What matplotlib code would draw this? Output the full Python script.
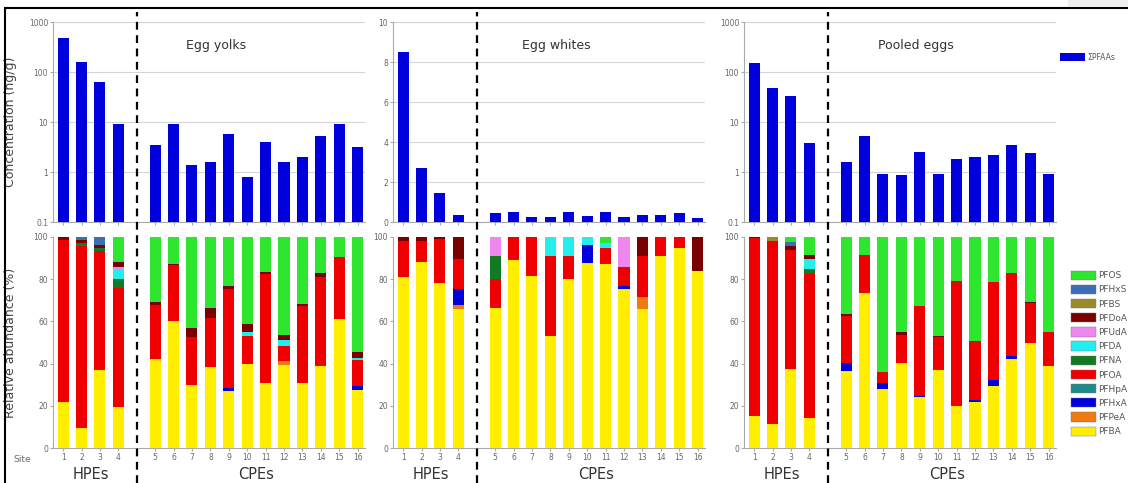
import matplotlib
matplotlib.use("Agg")
import matplotlib.pyplot as plt
import matplotlib.transforms as mtransforms
from matplotlib.lines import Line2D
from matplotlib.patches import Patch, Rectangle

# sites 1-4 = HPEs, 5-16 = CPEs
sites = [str(i) for i in range(1, 17)]
site_x = [1, 2, 3, 4] + list(range(6, 18))

compounds = ["PFBA", "PFPeA", "PFHxA", "PFHpA", "PFOA", "PFNA",
             "PFDA", "PFUdA", "PFDoA", "PFBS", "PFHxS", "PFOS"]
colors = ["#ffee00", "#f07a10", "#0000dd", "#1f8a8a", "#ee0000", "#117a22",
          "#22eeee", "#ee88ee", "#7a0000", "#9a8a2a", "#3a6fb5", "#2ee62e"]

# sum PFAAs, ng/g
yolk_conc = [475, 158, 62, 9, 3.4, 9.2, 1.35, 1.6, 5.7, 0.78, 3.9, 1.55, 2.0, 5.3, 9.2, 3.1]
white_conc = [8.5, 2.7, 1.45, 0.35, 0.45, 0.52, 0.25, 0.27, 0.5, 0.3, 0.52, 0.25, 0.33, 0.33, 0.45, 0.18]
pooled_conc = [150, 48, 33, 3.8, 1.6, 5.2, 0.9, 0.87, 2.5, 0.9, 1.8, 1.95, 2.2, 3.5, 2.4, 0.9]

# relative abundance, %
yolk_pct = {
    "PFBA":  [22, 9.5, 37, 19.5, 42, 60, 30, 38.5, 27, 40, 31, 39.5, 31, 39, 61, 27.5],
    "PFPeA": [0, 0, 0, 0, 0, 0, 0, 0, 0, 0, 0, 1.5, 0, 0, 0, 0],
    "PFHxA": [0, 0, 0, 0, 0, 0, 0, 0, 1.5, 0, 0, 0, 0, 0, 0, 2],
    "PFHpA": [0] * 16,
    "PFOA":  [76.5, 86, 56.5, 56.5, 26, 26.5, 22.5, 23, 47, 13, 51.5, 7.5, 36.5, 42, 29.5, 12],
    "PFNA":  [0, 1.5, 1.5, 4, 0, 0, 0, 0, 0, 0, 0, 0, 0, 0, 0, 0],
    "PFDA":  [0, 0, 0, 5, 0, 0, 0, 0, 0, 2, 0, 2.5, 0, 0, 0, 1],
    "PFUdA": [0, 0, 0, 1, 0, 0, 0, 0, 0, 0, 0, 0, 0, 0, 0, 0],
    "PFDoA": [1.5, 1.5, 1, 2, 1, 0.8, 4.5, 5, 1.5, 4, 0.8, 2.5, 0.8, 2, 0, 3],
    "PFBS":  [0] * 16,
    "PFHxS": [0, 1.5, 4, 0, 0, 0, 0, 0, 0, 0, 0, 0, 0, 0, 0, 0],
    "PFOS":  [0, 0, 0, 12, 31, 12.7, 43, 33.5, 23, 41, 16.7, 46.5, 31.7, 17, 9.5, 54.5],
}
white_pct = {
    "PFBA":  [81, 88, 78, 66, 66.5, 89, 81.5, 53, 80, 87.5, 87, 75.5, 66, 91, 95, 84],
    "PFPeA": [0, 0, 0, 2, 0, 0, 0, 0, 0, 0, 0, 0, 5.5, 0, 0, 0],
    "PFHxA": [0, 0, 0, 7.5, 0, 0, 0, 0, 0, 8.5, 0, 1.5, 0, 0, 0, 0],
    "PFHpA": [0] * 16,
    "PFOA":  [17, 10, 21, 14, 13.5, 11, 18.5, 38, 11, 0, 8, 9, 19.5, 9, 5, 0],
    "PFNA":  [0, 0, 0, 0, 11, 0, 0, 0, 0, 0, 0, 0, 0, 0, 0, 0],
    "PFDA":  [0, 0, 0, 0, 0, 0, 0, 9, 9, 4, 2, 0, 0, 0, 0, 0],
    "PFUdA": [0, 0, 0, 0, 9, 0, 0, 0, 0, 0, 0, 14, 0, 0, 0, 0],
    "PFDoA": [2, 2, 1, 10.5, 0, 0, 0, 0, 0, 0, 0, 0, 9, 0, 0, 16],
    "PFBS":  [0] * 16,
    "PFHxS": [0] * 16,
    "PFOS":  [0, 0, 0, 0, 0, 0, 0, 0, 0, 0, 3, 0, 0, 0, 0, 0],
}
pooled_pct = {
    "PFBA":  [15, 11.5, 37.5, 14, 36.5, 73.5, 28, 40.5, 24, 37, 20, 22, 29.5, 42, 50, 39],
    "PFPeA": [0] * 16,
    "PFHxA": [0, 0, 0, 0, 4, 0, 3, 0, 0.8, 0, 0, 0.8, 2.5, 1.5, 0, 0],
    "PFHpA": [0] * 16,
    "PFOA":  [84.5, 86.5, 56.5, 68.5, 22, 18, 5, 13, 42.5, 15.5, 59, 28, 46.5, 39.5, 18.5, 16],
    "PFNA":  [0, 0, 0, 2.5, 0, 0, 0, 0, 0, 0, 0, 0, 0, 0, 0, 0],
    "PFDA":  [0, 0, 0, 4.5, 0, 0, 0, 0, 0, 0, 0, 0, 0, 0, 0, 0],
    "PFUdA": [0] * 16,
    "PFDoA": [0.5, 0, 1.5, 2, 0.8, 0, 0, 1.5, 0, 0.8, 0, 0, 0, 0, 0.8, 0],
    "PFBS":  [0, 2, 0, 0, 0, 0, 0, 0, 0, 0, 0, 0, 0, 0, 0, 0],
    "PFHxS": [0, 0, 2, 0, 0, 0, 0, 0, 0, 0, 0, 0, 0, 0, 0, 0],
    "PFOS":  [0, 0, 2.5, 8.5, 36.7, 8.5, 64, 45, 32.7, 46.7, 21, 49.2, 21.5, 17, 30.7, 45],
}

titles = ["Egg yolks", "Egg whites", "Pooled eggs"]
concs = [yolk_conc, white_conc, pooled_conc]
pcts = [yolk_pct, white_pct, pooled_pct]
log_scale = [True, False, True]
title_x = [9.3, 9.3, 9.8]

W, H = 1128, 483
fig = plt.figure(figsize=(W / 100, H / 100), dpi=100)

lefts = [53, 393, 744]
ax_w = 312
tick_col = "#666666"
spine_col = "#aaaaaa"
bar_w = 0.6

for i in range(3):
    ax_t = fig.add_axes([lefts[i] / W, 1 - 222 / H, ax_w / W, 200 / H])
    ax_b = fig.add_axes([lefts[i] / W, 1 - 448 / H, ax_w / W, 211 / H])

    # concentration
    ax_t.bar(site_x, concs[i], width=bar_w, color="#0000dd", zorder=3)
    if log_scale[i]:
        ax_t.set_yscale("log")
        ax_t.set_ylim(0.1, 1000)
        ax_t.set_yticks([0.1, 1, 10, 100, 1000])
        ax_t.set_yticklabels(["0.1", "1", "10", "100", "1000"])
        ax_t.minorticks_off()
    else:
        ax_t.set_ylim(0, 10)
        ax_t.set_yticks([0, 2, 4, 6, 8, 10])
    ax_t.yaxis.grid(True, color="#d5d5d5", linewidth=0.8, zorder=0)
    ax_t.set_xlim(0.45, 17.4)
    ax_t.set_xticks(site_x)
    ax_t.tick_params(axis="x", labelbottom=False, length=2, color=spine_col)
    ax_t.tick_params(axis="y", labelsize=5.5, labelcolor=tick_col, length=2,
                     color=spine_col, pad=1.5)
    ax_t.text(title_x[i], 0.885, titles[i], transform=ax_t.get_xaxis_transform(),
              ha="center", va="center", fontsize=9, color="#333333")

    # relative abundance, stacked
    bottom = [0.0] * 16
    for name, col in zip(compounds, colors):
        vals = pcts[i][name]
        ax_b.bar(site_x, vals, width=bar_w, bottom=bottom, color=col,
                 linewidth=0, zorder=3)
        bottom = [b + v for b, v in zip(bottom, vals)]
    ax_b.set_ylim(0, 100)
    ax_b.set_yticks([0, 20, 40, 60, 80, 100])
    ax_b.set_xlim(0.45, 17.4)
    ax_b.set_xticks(site_x)
    ax_b.set_xticklabels(sites)
    ax_b.tick_params(axis="both", labelsize=5.5, labelcolor=tick_col, length=2,
                     color=spine_col, pad=1.5)
    ax_b.text(2.5, -0.125, "HPEs", transform=ax_b.get_xaxis_transform(),
              ha="center", va="center", fontsize=10.5, color="#333333")
    ax_b.text(11.5, -0.125, "CPEs", transform=ax_b.get_xaxis_transform(),
              ha="center", va="center", fontsize=10.5, color="#333333")

    for ax in (ax_t, ax_b):
        ax.spines["top"].set_visible(False)
        ax.spines["right"].set_visible(False)
        ax.spines["left"].set_color(spine_col)
        ax.spines["bottom"].set_color(spine_col)
        ax.patch.set_alpha(0)

    # HPE / CPE divider
    trans = mtransforms.blended_transform_factory(ax_t.transData, fig.transFigure)
    fig.add_artist(Line2D([5, 5], [0, 1 - 12 / H], transform=trans, color="black",
                          linewidth=1.6, linestyle=(0, (3.5, 2.5))))

    if i == 0:
        ax_t.set_ylabel("Concentration (ng/g)", fontsize=9, color="#444444")
        ax_t.yaxis.set_label_coords(-0.115, 0.5)
        ax_b.set_ylabel("Relative abundance (%)", fontsize=9, color="#444444")
        ax_b.yaxis.set_label_coords(-0.115, 0.5)
        ax_b.text(-0.1, -0.055, "Site", transform=ax_b.transAxes, ha="center",
                  va="center", fontsize=6.5, color=tick_col)

# legends
fig.legend(handles=[Patch(facecolor="#0000dd")], labels=["ΣPFAAs"],
           loc="center left", bbox_to_anchor=(1056 / W, 1 - 57 / H),
           frameon=False, fontsize=5.5, handlelength=3.3, handleheight=1.3,
           handletextpad=0.3, borderpad=0, labelcolor="#555555")
fig.legend(handles=[Patch(facecolor=c, edgecolor="#777777", linewidth=0.3)
                    for c in colors[::-1]],
           labels=compounds[::-1], loc="upper left",
           bbox_to_anchor=(1066 / W, 1 - 266 / H), frameon=False, fontsize=6.5,
           handlelength=2.8, handleheight=1.2, labelspacing=0.5,
           handletextpad=0.3, borderpad=0, labelcolor="#555555")

# outer frame of the scanned figure
fig.add_artist(Rectangle((5 / W, -0.05), 1.2, 1.05 - 8 / H, fill=False,
                         edgecolor="black", linewidth=1.5,
                         transform=fig.transFigure))
fig.add_artist(Rectangle((1068 / W, 1 - 7 / H), 0.1, 0.05, facecolor="#eeeeee",
                         edgecolor="none", transform=fig.transFigure))

fig.savefig("out.png", dpi=100)
